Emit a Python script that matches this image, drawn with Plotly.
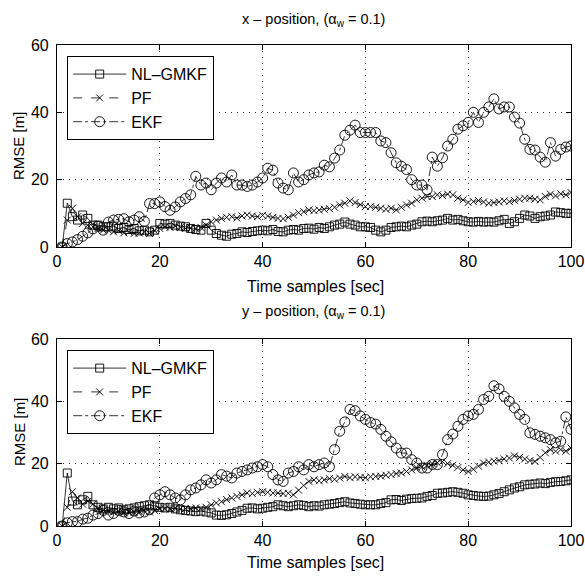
import plotly.graph_objects as go

t = list(range(1, 101))

x_nlgmkf = [0, 13, 9, 8, 9.5, 8.5, 6.5, 6.5, 6, 6, 6.2, 5.5, 5.8, 5.2, 5.5, 4.8, 5, 4.5, 5, 7,
            6.8, 7, 6.5, 6.2, 6, 5.5, 5.2, 5, 7, 5, 4, 3.5, 3.2, 3.8, 4, 4.5, 4.3, 4.6, 4.8, 5,
            4.8, 5.2, 4.6, 4.5, 5, 5.2, 5, 5.5, 5.6, 5.3, 5.8, 5.5, 6, 6.5, 6.8, 7.4, 6.8, 6.5, 6, 6,
            5.8, 5, 4.5, 5, 5.8, 6, 6.2, 6, 6.5, 6.8, 7.5, 7.7, 7.5, 7.8, 8, 8.5, 8, 8.2, 7.8, 7.5,
            7.4, 7.6, 7.4, 7.5, 7.4, 7.8, 8.2, 7, 7.5, 8.5, 9.5, 9.2, 8.5, 9, 9.2, 9.5, 10.4, 10.2, 10, 10]
x_pf = [0, 8, 11.5, 9, 7, 6.5, 6, 5.5, 5, 5, 4.5, 4.8, 4.2, 4.5, 4, 4.2, 4.5, 4, 4.8, 5.5,
        6, 5.8, 6.2, 5.8, 5.5, 5.6, 5.5, 5.8, 6.5, 7.5, 8, 8.5, 8.8, 9, 8.6, 9.2, 9.5, 9.2, 9, 9.4,
        9.2, 8.8, 8.5, 8.4, 8.8, 9.5, 10.2, 10.5, 11, 10.8, 11, 11.2, 11.4, 11.8, 12.5, 13, 13.7, 13.2, 12.6, 12,
        12, 11.8, 11.5, 11.2, 11.5, 11, 11.8, 12.5, 13, 14, 14.5, 15, 15, 15.5, 15.3, 15.7, 15.5, 14.5, 14, 13.2,
        13.5, 13.8, 13.4, 13, 13.2, 13.4, 13.7, 13.5, 13.8, 14.2, 14.5, 14.5, 14.2, 14, 15, 15.7, 15.2, 15.8, 15.5, 16.2]
x_ekf = [0, 1, 1.5, 2.2, 3.2, 4.2, 5.4, 6.2, 5, 7.4, 8, 8.2, 8.4, 7.5, 8, 9, 7.6, 12.9, 12.9, 13.4,
         12, 10.9, 11.9, 13.4, 14.4, 15.5, 21, 18.4, 19, 17, 19, 20.5, 19.3, 21.4, 18.4, 18.4, 18, 18.4, 19.3, 20.5,
         23.4, 22.8, 19, 17.5, 17, 22, 19.3, 20, 21.4, 22, 22.3, 24.3, 23.8, 26.4, 28.8, 33.2, 34.7, 36.2, 34, 34,
         34, 34, 31.5, 31, 28, 25, 24, 23, 20, 18.4, 18.4, 17, 26.7, 24, 26.5, 30, 32, 35, 36, 37,
         40, 37, 40, 41.6, 44, 41, 41.6, 41.6, 38.6, 36.8, 32, 29, 28.8, 26.7, 25.2, 31, 27, 29, 29.7, 30]

y_nlgmkf = [0, 17, 8, 6.8, 8.4, 9.5, 6.8, 6, 5.5, 6, 5.5, 5.8, 5.2, 5.5, 5.8, 6.2, 6.5, 6.8, 6.5, 6,
            5.8, 6, 5.5, 5.2, 5, 4.8, 4.6, 4.8, 4.5, 4.2, 3.5, 3.4, 3.6, 4, 4.5, 5, 5.7, 5.8, 5.5, 5.7,
            6, 6.2, 6.8, 6.5, 6.2, 6.5, 6.8, 6.6, 6.2, 6.5, 6.4, 6.8, 7, 7.2, 7.5, 7.8, 7.4, 7.2, 7, 6.8,
            6.8, 6.8, 7.2, 7.5, 8.4, 8.5, 8.2, 8.6, 8.8, 8.9, 9, 9.5, 9.8, 10.5, 10.6, 10.8, 11, 10.8, 10.5, 10,
            9.8, 9.6, 9.5, 9.6, 10, 10.4, 11, 11.6, 12.2, 12.6, 13.2, 13.4, 13.5, 13.8, 13.6, 14, 14.2, 14.3, 14.5, 14.8]
y_pf = [0, 6, 11, 9, 7, 8, 7, 5.5, 5, 4.8, 4.5, 4.6, 4.2, 4.5, 4.4, 4.6, 4.8, 4.5, 5, 5.5,
        5.6, 5.4, 5.8, 5.5, 5.6, 5.5, 5.8, 5.6, 6, 6.8, 7.4, 7.8, 8.5, 9, 9.5, 10, 10.6, 10.4, 10.8, 11,
        10.8, 10.6, 10.6, 10.4, 10.5, 10, 11.5, 13, 14.3, 14.8, 14.5, 14.8, 15.2, 15, 15.4, 15.9, 15.5, 15.8, 15.6, 15.5,
        15.8, 15.9, 16, 16.3, 16.5, 16.8, 17, 17.5, 18, 18.6, 19, 19.5, 20, 20.3, 20.7, 20, 19.5, 18.8, 18, 17.5,
        18.2, 19.2, 20.2, 20.5, 20.8, 21, 21.5, 21.8, 22.5, 22, 21.5, 21, 20.7, 22, 23.5, 24.5, 24, 24.5, 24, 25]
y_ekf = [0, 1, 1.4, 1.4, 2.2, 2.5, 3.5, 4, 5, 3.5, 4, 5, 4.5, 4, 4.8, 4.2, 4.5, 5.2, 9, 10,
         11, 10, 9, 8.4, 10, 11.6, 12.2, 13.2, 14.8, 13.8, 14.8, 16.5, 16, 15.4, 17, 17.5, 18, 18.6, 19, 19.7,
         19, 16.5, 14.8, 14.3, 17, 17.5, 19, 18, 19.7, 19, 19.7, 20.2, 19, 24.5, 30.4, 33.4, 37.4, 37, 35.3, 34.2,
         33.2, 32.7, 31, 28.8, 27, 25, 23.4, 23.4, 21.3, 20.2, 18.6, 18.6, 19.7, 19.7, 22.9, 27.7, 29.5, 32, 34.2, 35.3,
         35.8, 37.4, 40.6, 41.6, 45, 44, 41.6, 40, 37.9, 35.8, 34.2, 29.9, 29.4, 28.8, 28.3, 27.7, 26.7, 27.2, 35, 31]

series_names = ["NL\u2013GMKF", "PF", "EKF"]
y_ticks = [0, 20, 40, 60]
x_ticks = [0, 20, 40, 60, 80, 100]

FONT = "Liberation Sans, Arial, Helvetica, sans-serif"

styles = [
    dict(dash="solid", symbol="square-open", size=8),
    dict(dash="dash", symbol="x-thin-open", size=7),
    dict(dash="dashdot", symbol="circle-open", size=10),
]

fig = go.Figure()
panels = [
    ("x", "y", "legend", [x_nlgmkf, x_pf, x_ekf]),
    ("x2", "y2", "legend2", [y_nlgmkf, y_pf, y_ekf]),
]
for xa, ya, lg, data in panels:
    for name, vals, st in zip(series_names, data, styles):
        fig.add_trace(go.Scatter(
            x=t, y=vals, name=name, mode="lines+markers", xaxis=xa, yaxis=ya, legend=lg,
            line=dict(color="black", width=0.8, dash=st["dash"]),
            marker=dict(symbol=st["symbol"], size=st["size"], color="black",
                        line=dict(color="black", width=0.9)),
        ))

W, H = 585, 581
L, R = 57, 14
def ydom(top_px, bot_px):
    return [1 - bot_px / H, 1 - top_px / H]

axis_common = dict(
    showline=True, linecolor="black", linewidth=1.2, mirror="ticks",
    ticks="inside", ticklen=5, tickcolor="black", tickwidth=1,
    showgrid=True, gridcolor="rgba(0,0,0,0.8)", griddash="1px,5px", gridwidth=1,
    zeroline=False, tickfont=dict(family=FONT, size=16, color="black"),
    automargin=False,
)

leg_common = dict(xanchor="left", yanchor="top", bordercolor="black", borderwidth=1.2,
                  bgcolor="white", font=dict(family=FONT, size=16, color="black"),
                  itemwidth=53, tracegroupgap=0)

fig.update_layout(
    width=W, height=H, margin=dict(l=L, r=R, t=0, b=0, pad=0, autoexpand=False),
    paper_bgcolor="white", plot_bgcolor="white", showlegend=True,
    font=dict(family=FONT, color="black"),
    xaxis=dict(domain=[0, 1], range=[0, 100], tickvals=x_ticks, anchor="y", **axis_common),
    yaxis=dict(domain=ydom(45, 247), range=[0, 60], tickvals=y_ticks, anchor="x",
               ticklabelstandoff=4, **axis_common),
    xaxis2=dict(domain=[0, 1], range=[0, 100], tickvals=x_ticks, anchor="y2", **axis_common),
    yaxis2=dict(domain=ydom(339, 526), range=[0, 60], tickvals=y_ticks, anchor="x2",
                ticklabelstandoff=4, **axis_common),
    legend=dict(x=(67 - L) / (W - L - R), y=1 - 56 / H, **leg_common),
    legend2=dict(x=(67 - L) / (W - L - R), y=1 - 350 / H, **leg_common),
)

def ann(text, xpx, ypx, size, angle=0):
    fig.add_annotation(text=text, xref="paper", yref="paper",
                       x=(xpx - L) / (W - L - R), y=1 - ypx / H,
                       xanchor="center", yanchor="middle", showarrow=False, textangle=angle,
                       font=dict(family=FONT, size=size, color="black"))

ann("x \u2013 position, (\u03b1<sub>w</sub> = 0.1)", 313, 20, 14.5)
ann("y \u2013 position, (\u03b1<sub>w</sub> = 0.1)", 313, 312, 14.5)
ann("Time samples [sec]", 315, 287, 16)
ann("Time samples [sec]", 315, 562, 16)
ann("RMSE [m]", 19, 146, 15, -90)
ann("RMSE [m]", 19, 432, 15, -90)

fig.write_html("out.html")
